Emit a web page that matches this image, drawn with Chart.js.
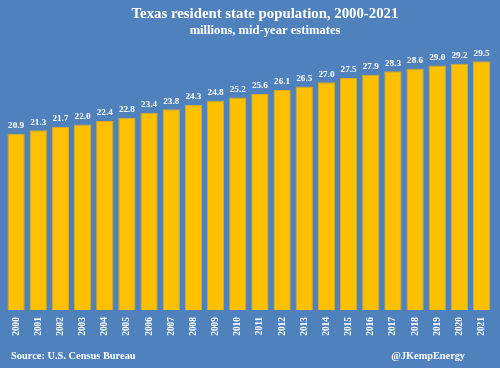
<!DOCTYPE html>
<html>
<head>
<meta charset="utf-8">
<script src="https://cdn.jsdelivr.net/npm/chart.js@4/dist/chart.umd.min.js"></script>
<style>
html,body{margin:0;padding:0;background:#4f81bd;}
#wrap{width:500px;height:368px;position:relative;}
</style>
</head>
<body>
<div id="wrap"><canvas id="c" width="500" height="368"></canvas></div>
<script>
const years = ["2000","2001","2002","2003","2004","2005","2006","2007","2008","2009","2010","2011","2012","2013","2014","2015","2016","2017","2018","2019","2020","2021"];
const population = [20.9,21.3,21.7,22.0,22.4,22.8,23.4,23.8,24.3,24.8,25.2,25.6,26.1,26.5,27.0,27.5,27.9,28.3,28.6,29.0,29.2,29.5];
const titleText = "Texas resident state population, 2000-2021";
const subtitleText = "millions, mid-year estimates";
const sourceText = "Source: U.S. Census Bureau";
const creditText = "@JKempEnergy";

const SERIF = '"Liberation Serif","DejaVu Serif",serif';

const textPlugin = {
  id: 'texts',
  afterDraw(chart) {
    const ctx = chart.ctx;
    ctx.save();
    ctx.fillStyle = '#ffffff';
    ctx.textBaseline = 'middle';
    // title
    ctx.textAlign = 'center';
    ctx.font = 'bold 14.8px ' + SERIF;
    ctx.fillText(titleText, 265, 14);
    ctx.font = 'bold 12.6px ' + SERIF;
    ctx.fillText(subtitleText, 265, 31);
    // footer
    ctx.textAlign = 'left';
    ctx.font = 'bold 10.4px ' + SERIF;
    ctx.fillText(sourceText, 11, 356);
    ctx.textAlign = 'right';
    ctx.font = 'bold 10.3px ' + SERIF;
    ctx.fillText(creditText, 465, 356);
    // data labels
    const meta = chart.getDatasetMeta(0);
    ctx.textAlign = 'center';
    ctx.font = 'bold 9.2px ' + SERIF;
    meta.data.forEach((bar, i) => {
      ctx.fillText(population[i].toFixed(1), bar.x, bar.y - 8);
    });
    ctx.restore();
  }
};

new Chart(document.getElementById('c'), {
  type: 'bar',
  data: {
    labels: years,
    datasets: [{
      data: population,
      backgroundColor: '#ffc000',
      borderColor: '#d9a92a',
      borderWidth: 1,
      barPercentage: 0.78,
      categoryPercentage: 1.0
    }]
  },
  options: {
    responsive: false,
    animation: false,
    devicePixelRatio: 1,
    layout: { padding: { left: 5, right: 5, top: 57, bottom: 0 } },
    plugins: { legend: { display: false }, title: { display: false }, tooltip: { enabled: false } },
    scales: {
      x: {
        grid: { display: false, drawTicks: false },
        border: { display: false },
        ticks: {
          color: '#ffffff',
          font: { family: SERIF, size: 9.4, weight: 'bold' },
          minRotation: 90, maxRotation: 90,
          padding: 7,
          autoSkip: false
        },
        afterFit(scale) { scale.height = 58; }
      },
      y: {
        display: false,
        min: 0,
        max: 30
      }
    }
  },
  plugins: [textPlugin]
});
</script>
</body>
</html>
